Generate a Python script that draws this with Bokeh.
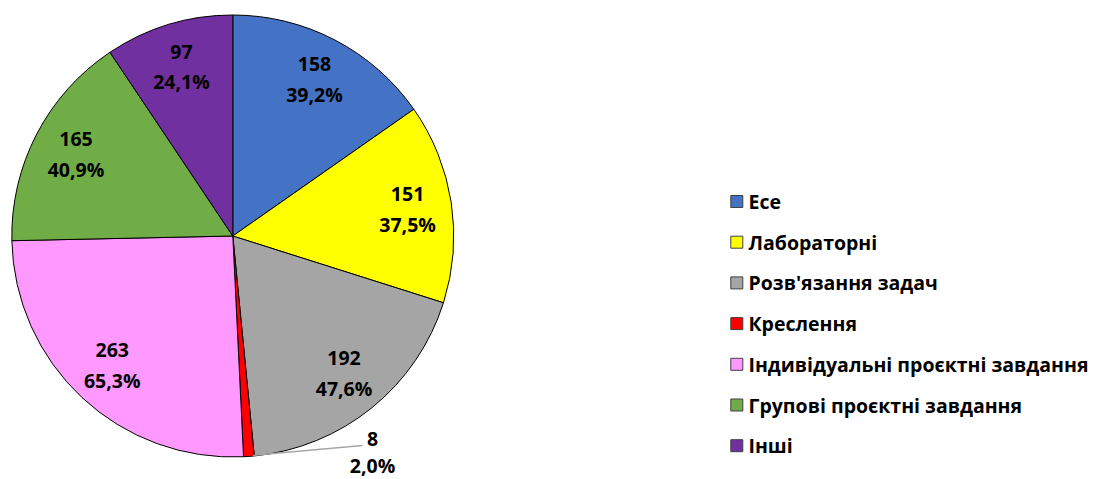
import numpy as np
from bokeh.plotting import figure
from bokeh.models import Range1d
from bokeh.core.properties import value
from bokeh.embed import file_html
from bokeh.resources import INLINE

categories = ["Есе", "Лабораторні", "Розв'язання задач", "Креслення",
              "Індивідуальні проєктні завдання", "Групові проєктні завдання", "Інші"]
counts = [158, 151, 192, 8, 263, 165, 97]
percents = ["39,2%", "37,5%", "47,6%", "2,0%", "65,3%", "40,9%", "24,1%"]
colors = ["#4472C4", "#FFFF00", "#A5A5A5", "#FF0000", "#FF99FF", "#70AD47", "#7030A0"]

W, H = 1093, 479
FONT = value("Open Sans")

p = figure(width=W, height=H, output_backend="svg", toolbar_location=None,
           x_axis_type=None, y_axis_type=None, min_border=0,
           x_range=Range1d(0, W), y_range=Range1d(0, H))
p.outline_line_color = None
p.grid.visible = False
p.background_fill_color = "white"

def sx(x):  # screen x -> data
    return x

def sy(y):  # screen y -> data
    return H - y

cx, cy, R = sx(232.3), sy(235.5), 221

vals = np.array(counts, dtype=float)
cum = np.concatenate([[0], np.cumsum(vals)]) / vals.sum() * 2 * np.pi
start = np.pi / 2 - cum[:-1]
end = np.pi / 2 - cum[1:]

p.wedge(x=[cx] * len(vals), y=[cy] * len(vals), radius=R,
        start_angle=list(start), end_angle=list(end), direction="clock",
        fill_color=colors, line_color="black", line_width=1)

# data labels
mid = (start + end) / 2
lr = 0.8 * R
fs = "19.5px"
for i, (c, pc) in enumerate(zip(counts, percents)):
    if c == 8:
        # outside label with leader line
        ex, ey = cx + R * np.cos(mid[i]) + 4, cy + R * np.sin(mid[i]) + 1
        lx, ly = sx(372), sy(438)
        p.line([ex, lx - 10], [ey, ly - 7], line_color="#A6A6A6", line_width=1.5)
        p.text([lx], [ly], text=[str(c)], text_align="center", text_baseline="middle",
               text_font=FONT, text_font_style="bold", text_font_size=fs, text_color="black")
        p.text([lx], [sy(465)], text=[pc], text_align="center", text_baseline="middle",
               text_font=FONT, text_font_style="bold", text_font_size=fs, text_color="black")
        continue
    x = cx + lr * np.cos(mid[i])
    y = cy + lr * np.sin(mid[i])
    p.text([x], [y + 15], text=[str(c)], text_align="center", text_baseline="middle",
           text_font=FONT, text_font_style="bold", text_font_size=fs, text_color="black")
    p.text([x], [y - 15], text=[pc], text_align="center", text_baseline="middle",
           text_font=FONT, text_font_style="bold", text_font_size=fs, text_color="black")

# legend
lx0 = sx(736.3)
ly = [sy(201 + 40.7 * k) for k in range(len(categories))]
p.rect(x=[lx0] * len(categories), y=ly, width=12, height=12,
       fill_color=colors, line_color="#404040", line_width=1)
p.text(x=[sx(748)] * len(categories), y=ly, text=categories, text_align="left",
       text_baseline="middle", text_font=FONT, text_font_style="bold",
       text_font_size="19.5px", text_color="black")

open("out.html", "w").write(file_html(p, INLINE))
